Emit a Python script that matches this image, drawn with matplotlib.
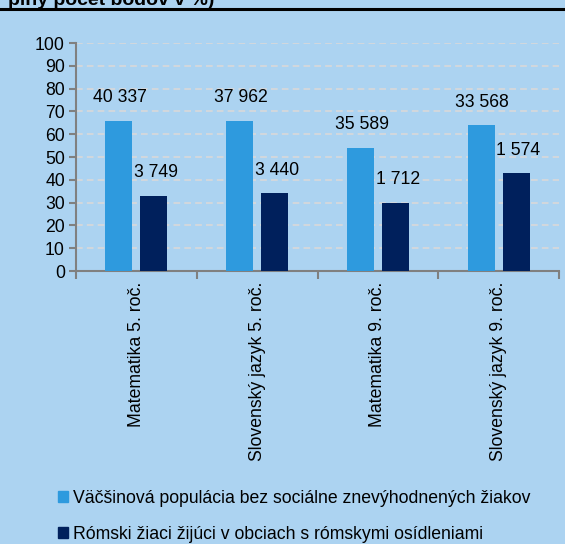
import matplotlib
matplotlib.use("Agg")
import matplotlib.pyplot as plt
from matplotlib.lines import Line2D
from matplotlib.patches import Rectangle
import numpy as np

categories = ["Matematika 5. roč.", "Slovenský jazyk 5. roč.", "Matematika 9. roč.", "Slovenský jazyk 9. roč."]
series_names = ["Väčšinová populácia bez sociálne znevýhodnených žiakov",
                "Rómski žiaci žijúci v obciach s rómskymi osídleniami"]
major_pct = [66, 66, 54, 64]
roma_pct = [33, 34, 30, 43]
major_n = [40337, 37962, 35589, 33568]
roma_n = [3749, 3440, 1712, 1574]
title_tail = "plný počet bodov v %)"

BG = "#acd3f1"
C1 = "#2e9ade"
C2 = "#00205c"
FS = 12.7
plt.rcParams["font.family"] = ["Liberation Sans", "DejaVu Sans"]

def fmt(n):
    return f"{n:,}".replace(",", " ")

fig = plt.figure(figsize=(5.65, 5.44), dpi=100, facecolor=BG)
ax = fig.add_axes([76/565, 1-271/544, (559-76)/565, (271-43)/544])
ax.set_facecolor(BG)

x = np.arange(len(categories))
w = 0.225
off = 0.145
ax.bar(x - off, major_pct, w, color=C1, zorder=3)
ax.bar(x + off, roma_pct, w, color=C2, zorder=3)

for xi, v, n in zip(x, major_pct, major_n):
    ax.annotate(fmt(n), (xi - off + 0.01, v), xytext=(0, 16.5), textcoords="offset points",
                ha="center", va="center", fontsize=FS, color="black")
for xi, v, n in zip(x, roma_pct, roma_n):
    ax.annotate(fmt(n), (xi + off + 0.02, v), xytext=(0, 16.5), textcoords="offset points",
                ha="center", va="center", fontsize=FS, color="black")

ax.set_xlim(-0.5, len(categories) - 0.5)
ax.set_ylim(0, 100)
ax.set_yticks(np.arange(0, 101, 10))
ax.yaxis.grid(True, linestyle=(0, (4, 2.5)), color="#d9d9d9", linewidth=1.2, zorder=0)
ax.set_axisbelow(True)

for s in ["top", "right"]:
    ax.spines[s].set_visible(False)
for s in ["left", "bottom"]:
    ax.spines[s].set_color("#808080")
    ax.spines[s].set_linewidth(1.5)

ax.tick_params(axis="y", direction="out", length=5, width=1.5, color="#808080",
               labelsize=FS, pad=3)
ax.set_xticks(x)
ax.set_xticklabels(categories, rotation=90, fontsize=FS, va="top", ha="center")
ax.tick_params(axis="x", which="major", length=0, pad=8)
ax.set_xticks(np.arange(-0.5, len(categories), 1), minor=True)
ax.tick_params(axis="x", which="minor", direction="out", length=6, width=1.5, color="#808080")

fig.legend([Rectangle((0, 0), 1, 1, color=C1), Rectangle((0, 0), 1, 1, color=C2)],
           series_names, loc="upper left", bbox_to_anchor=(58/565, 1-490/544),
           frameon=False, fontsize=FS, handlelength=0.57, handleheight=0.57,
           handletextpad=0.3, labelspacing=1.07, borderaxespad=0, borderpad=0)

fig.add_artist(Line2D([0, 1], [1-9/544, 1-9/544], color="black", linewidth=2.2,
                      transform=fig.transFigure))
fig.text(8/565, 1-5/544, title_tail, fontsize=14, fontweight="bold",
         va="baseline", ha="left")

fig.savefig("out.png", dpi=100, facecolor=BG)
